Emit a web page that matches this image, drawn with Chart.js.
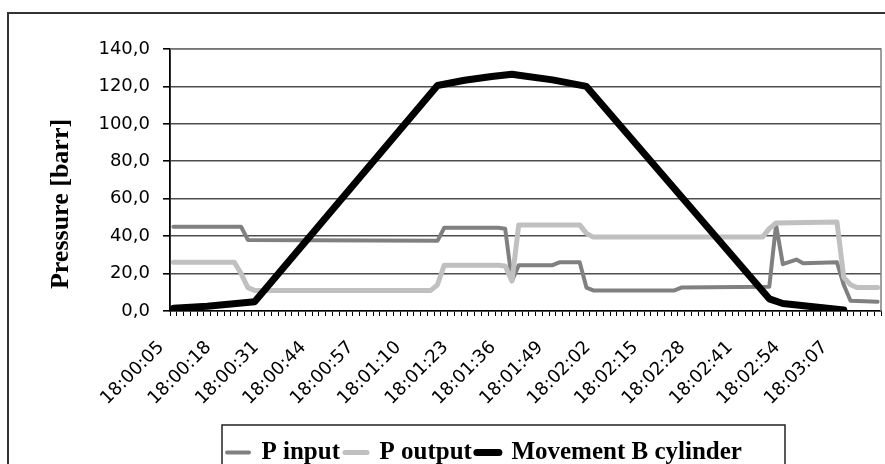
<!DOCTYPE html>
<html>
<head>
<meta charset="utf-8">
<script src="https://cdn.jsdelivr.net/npm/chart.js@4.4.1/dist/chart.umd.min.js"></script>
<style>
  html, body { margin: 0; padding: 0; background: #fff; }
</style>
</head>
<body>
<canvas id="presion" width="885" height="464"></canvas>
<script>
// one label every 7 samples
const tickLabels = ['18:00:05', '18:00:18', '18:00:31', '18:00:44', '18:00:57', '18:01:10', '18:01:23',
  '18:01:36', '18:01:49', '18:02:02', '18:02:15', '18:02:28', '18:02:41', '18:02:54', '18:03:07'];
const sampleCount = 105;
const labelEvery = 7;
const yTicks = [0, 20, 40, 60, 80, 100, 120, 140];

// sample index / pressure value at the corners of each curve
const inputIdx = [0, 10, 11, 39, 40, 48, 49, 50, 51, 56, 57, 60, 61, 62, 74, 75, 88, 89, 90, 92, 93, 98, 99, 100, 104];
const inputVal = [45, 45, 38, 37.5, 44.5, 44.5, 44, 16, 24.5, 24.5, 26, 26, 12.5, 11, 11, 12.5, 13, 46, 25, 27.5, 25.5, 26, 14, 5.5, 5];

const outputIdx = [0, 9, 10, 11, 12, 38, 39, 40, 48, 49, 50, 51, 60, 61, 62, 87, 88, 89, 98, 99, 100, 101, 104];
const outputVal = [26, 26, 20, 12.5, 11, 11, 14, 24.5, 24.5, 24, 16, 46, 46, 41.5, 39.5, 39.5, 44, 47, 47.5, 18, 14, 12.5, 12.5];

const movementIdx = [0, 5, 12, 39, 43, 47, 50, 51, 56, 61, 88, 90, 99];
const movementVal = [1.5, 2.5, 5, 120.5, 123.3, 125.3, 126.5, 126, 123.5, 120, 6.5, 4, 0.5];

const labelShift = -1.8;

function puntos(idx, val) {
    return idx.map((i, k) => ({ x: i + 0.5, y: val[k] }));
}

const marco = {
    id: 'marco',
    afterLayout(chart) {
        const lg = chart.legend;
        lg.left = 222; lg.right = 785; lg.top = 435; lg.bottom = 484;
        lg.width = lg.right - lg.left; lg.height = lg.bottom - lg.top;
    },
    beforeDraw(chart) {
        const c = chart.ctx;
        c.save();
        c.strokeStyle = '#333';
        c.lineWidth = 2;
        c.strokeRect(8, 13, 900, 480);
        c.restore();
    },
    afterDraw(chart) {
        const c = chart.ctx;
        const a = chart.chartArea;
        c.save();
        // plot area frame, top and right
        c.strokeStyle = '#808080';
        c.lineWidth = 1.5;
        c.beginPath();
        c.moveTo(a.left, a.top);
        c.lineTo(a.right, a.top);
        c.lineTo(a.right, a.bottom);
        c.stroke();
        // legend frame
        c.strokeStyle = '#222';
        c.lineWidth = 1.5;
        c.strokeRect(222, 425, 563, 60);
        // y title
        c.translate(61, 204);
        c.rotate(-Math.PI / 2);
        c.fillStyle = '#000';
        c.font = 'bold 26px "Liberation Serif"';
        c.textAlign = 'center';
        c.textBaseline = 'middle';
        c.fillText('Pressure [barr]', 0, 0);
        c.restore();
    }
};

const grafico = new Chart(document.getElementById('presion'), {
    type: 'line',
    data: {
        datasets: [
            {
                label: 'P input',
                data: puntos(inputIdx, inputVal),
                borderColor: '#808080',
                borderWidth: 4,
                order: 3
            },
            {
                label: 'P output',
                data: puntos(outputIdx, outputVal),
                borderColor: '#c0c0c0',
                borderWidth: 5,
                order: 2
            },
            {
                label: 'Movement B cylinder',
                data: puntos(movementIdx, movementVal),
                borderColor: '#000000',
                borderWidth: 7,
                order: 1
            }
        ]
    },
    options: {
        responsive: false,
        animation: false,
        layout: { padding: { left: 0, top: 49, right: 4, bottom: 0 } },
        elements: {
            point: { radius: 0 },
            line: { tension: 0, borderCapStyle: 'round', borderJoinStyle: 'round', fill: false }
        },
        scales: {
            x: {
                type: 'linear',
                min: 0,
                max: sampleCount,
                afterBuildTicks(scale) {
                    const t = tickLabels.map((s, k) => ({ value: k * labelEvery + 0.5 + labelShift, lbl: s }));
                    for (let i = 0; i <= sampleCount; i++) t.push({ value: i });
                    scale.ticks = t;
                },
                afterFit(scale) {
                    scale.height = 113;
                    scale.paddingLeft = 0;
                    scale.paddingRight = 0;
                },
                ticks: {
                    autoSkip: false,
                    minRotation: 45,
                    maxRotation: 45,
                    padding: 21,
                    color: '#000',
                    font: { family: 'DejaVu Sans', size: 18 },
                    callback: (v, i, ticks) => ticks[i].lbl || ''
                },
                grid: {
                    drawOnChartArea: false,
                    tickLength: 5,
                    tickColor: (c) => (c.tick && c.tick.lbl ? 'rgba(0,0,0,0)' : '#000')
                },
                border: { color: '#000', width: 1.5 }
            },
            y: {
                min: 0,
                max: 140,
                afterBuildTicks(scale) { scale.ticks = yTicks.map(v => ({ value: v })); },
                afterFit(scale) { scale.width = 170; },
                ticks: {
                    padding: 13,
                    color: '#000',
                    font: { family: 'DejaVu Sans', size: 18 },
                    callback: (v) => v.toFixed(1).replace('.', ',')
                },
                grid: { color: '#4d4d4d', tickColor: '#000', tickLength: 7, lineWidth: 1.6 },
                border: { color: '#000', width: 1.8 }
            }
        },
        plugins: {
            tooltip: { enabled: false },
            legend: {
                position: 'bottom',
                align: 'start',
                labels: {
                    usePointStyle: true,
                    pointStyle: 'line',
                    pointStyleWidth: 22,
                    padding: 5,
                    color: '#000',
                    font: { family: 'Liberation Serif', size: 25, weight: 'bold' },
                    generateLabels(chart) {
                        const items = Chart.defaults.plugins.legend.labels.generateLabels(chart);
                        items.forEach(it => { it.lineCap = 'round'; });
                        return items.sort((a, b) => a.datasetIndex - b.datasetIndex);
                    }
                }
            }
        }
    },
    plugins: [marco]
});
</script>
</body>
</html>
